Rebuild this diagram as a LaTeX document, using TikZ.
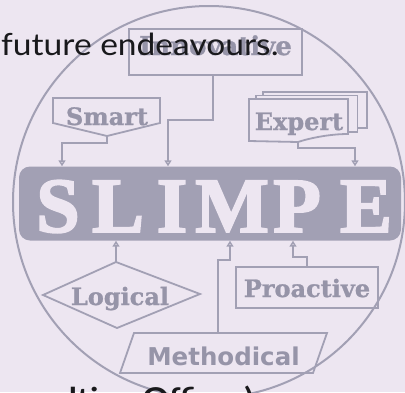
\documentclass[tikz,border=0pt]{standalone}
\usepackage{fontspec}
\usepackage{xcolor}
\usepackage{tikz}
\newfontfamily\slimpefont[FakeBold=2.5]{Liberation Serif Bold}
\newfontfamily\tagfont[FakeBold=1]{DejaVu Serif Bold}
\newfontfamily\methfont{DejaVu Sans Bold}
\newfontfamily\pagefont[FakeStretch=1.1]{Lato}
\newfontfamily\pagebold[FakeStretch=1.1]{Lato Bold}
\usetikzlibrary{shapes,arrows,positioning,calc,arrows.meta}

\definecolor{paper}{RGB}{237,230,241}
\definecolor{ink}{RGB}{162,160,180}
\definecolor{inktext}{RGB}{150,148,168}
\definecolor{print}{RGB}{25,25,28}

\begin{document}
\begin{tikzpicture}[x=1pt, y=-1pt,
    link/.style={draw=ink, line width=1.8pt},
    tip/.style={-{Triangle[open, length=6pt, width=7pt]}},
    tagbox/.style={draw=ink, line width=1.8pt, inner sep=0pt, text=inktext, font=\tagfont\fontsize{24}{24}\selectfont},
    tag/.style={text=inktext, font=\tagfont\fontsize{24}{24}\selectfont, inner sep=0pt, anchor=base},
    letter/.style={text=paper, font=\slimpefont\fontsize{78}{78}\selectfont, inner sep=0pt, anchor=base}]
    % Paper
    \useasboundingbox (0,0) rectangle (405,392);
    \clip (0,0) rectangle (405,392);
    \fill[paper] (0,0) rectangle (405,392);
    % Circle
    \draw[ink, line width=2pt] (209,202) circle (196pt);
    % SLIMPE bar
    \node[fill=ink, rounded corners=11pt, minimum width=382pt, minimum height=74pt, inner sep=0pt] (slimpe) at (210,203.5) {};
    \foreach \ch/\xx in {S/58, L/118, I/172, M/232, P/297, E/366}
        \node[letter] (let\ch) at (\xx,232) {\ch};
    % Innovative
    \node[tagbox, minimum width=173pt, text height=26pt, text depth=20pt, font=\tagfont\fontsize{26}{26}\selectfont] (innov) at (215.5,52) {Innovative};
    \coordinate (innovbend) at (168,120);
    \draw[link, tip] ([xshift=-2.5pt]innov.south) |- (innovbend) -- (innovbend |- slimpe.north);
    % Smart
    \draw[link] (53,98) -- (160,98) -- (160,123) -- (107,136) -- (53,123) -- cycle;
    \node[tag] (smart) at (107,125) {Smart};
    \coordinate (smarttip) at (107,136);
    \coordinate (smartbend) at (62,143);
    \draw[link, tip] (smarttip) |- (smartbend) -- (smartbend |- slimpe.north);
    % Expert (stacked sheets)
    \draw[link] (263,92) rectangle (367,128);
    \draw[link, fill=paper] (256,95.5) rectangle (357.5,132);
    \draw[link, fill=paper] (249,99) -- (348,99) -- (348,134) .. controls (330,134) and (310,138) .. (298,142) -- (249,141) -- cycle;
    \node[tag] (expert) at (299,130) {Expert};
    \coordinate (experttail) at (298,142);
    \coordinate (expertbend) at (355,148);
    \draw[link, tip] (experttail) |- (expertbend) -- (expertbend |- slimpe.north);
    % Logical
    \coordinate (logicaltop) at (116,262);
    \draw[link] (43,295) -- (logicaltop) -- (200,294) -- (117,328) -- cycle;
    \node[tag] (logical) at (120,305) {Logical};
    \draw[link, tip] (logicaltop) -- (logicaltop |- slimpe.south);
    % Proactive
    \node[tagbox, minimum width=142pt, text height=30pt, text depth=11pt] (pro) at (307,287.5) {Proactive};
    \coordinate (probend) at (293,257);
    \draw[link, tip] (pro.north) |- (probend) -- (probend |- slimpe.south);
    % Methodical
    \node[trapezium, trapezium left angle=67, trapezium right angle=113, trapezium stretches=true, draw=ink, line width=1.8pt, minimum width=207pt, minimum height=40pt, inner sep=0pt, text=inktext, font=\methfont\fontsize{24.5}{24.5}\selectfont, text height=26pt, text depth=2pt] (meth) at (223.5,353) {Methodical};
    \coordinate (methbend) at (230,260);
    \draw[link, tip] ([xshift=-5.5pt]meth.north) |- (methbend) -- (methbend |- slimpe.south);
    % Printed page text
    \node[anchor=base west, inner sep=0pt, text=print, font=\pagefont\fontsize{30.5}{30.5}\selectfont] (future) at (1,55) {future endeavours.};
    \node[anchor=base west, inner sep=0pt, text=print, font=\pagebold\fontsize{30}{30}\selectfont] (officer) at (-2,409) {onsulting Officer)};
\end{tikzpicture}
\end{document}
